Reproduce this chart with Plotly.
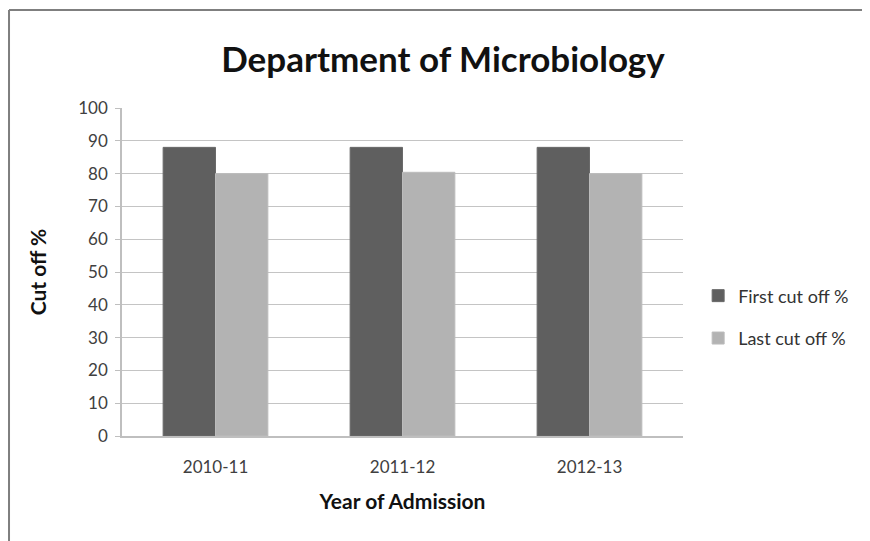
import plotly.graph_objects as go

years = ["2010-11", "2011-12", "2012-13"]
first_cut = [88, 88, 88]
last_cut = [80, 80.4, 80]
y_ticks = [0, 10, 20, 30, 40, 50, 60, 70, 80, 90, 100]

FONT = "Lato, 'Open Sans', sans-serif"

fig = go.Figure()
fig.add_trace(go.Bar(name="First cut off %", x=years, y=first_cut, legendgroup="a",
                     marker=dict(color="#5f5f5f", line=dict(color="#6a6a6a", width=1))))
fig.add_trace(go.Bar(name="Last cut off %", x=years, y=last_cut, legendgroup="b",
                     marker=dict(color="#b3b3b3", line=dict(color="#bcbcbc", width=1))))

fig.update_layout(
    width=870, height=541,
    margin=dict(l=114, r=195, t=100, b=113),
    paper_bgcolor="white", plot_bgcolor="white",
    barmode="group", bargap=0.44, bargroupgap=0,
    font=dict(family=FONT, color="#404040", size=16),
    title=dict(text="<b>Department of Microbiology</b>", x=0.5, xanchor="center",
               y=0.904, yanchor="middle",
               font=dict(family=FONT, size=35, color="#111111")),
    legend=dict(x=1.027, y=0.363, xanchor="left", yanchor="middle",
                font=dict(family=FONT, size=18, color="#333333"),
                tracegroupgap=16, bgcolor="rgba(0,0,0,0)"),
    xaxis=dict(type="category", showline=True, linecolor="#bfbfbf", linewidth=1.5,
               ticks="", ticklabelstandoff=15, tickfont=dict(size=17, color="#404040"),
               title=dict(text="<b>Year of Admission</b>", standoff=18,
                          font=dict(family=FONT, size=21, color="#111111"))),
    yaxis=dict(range=[0, 100], tickvals=y_ticks, showline=True, linecolor="#bfbfbf",
               linewidth=1.5, ticks="outside", ticklen=5, tickcolor="#bfbfbf",
               ticklabelstandoff=4,
               showgrid=True, gridcolor="#c4c4c4", gridwidth=1.3, zeroline=False,
               tickfont=dict(size=17, color="#404040"),
               title=dict(text="<b>Cut off %</b>", standoff=26,
                          font=dict(family=FONT, size=21, color="#111111"))),
    shapes=[
        dict(type="line", xref="paper", yref="paper", x0=-0.2014, x1=1.4, y0=1.2988, y1=1.2988,
             line=dict(color="#7f7f7f", width=2)),
        dict(type="line", xref="paper", yref="paper", x0=-0.2014, x1=-0.2014, y0=1.2988, y1=-0.4,
             line=dict(color="#7f7f7f", width=2)),
    ],
)
fig.write_html("out.html")
